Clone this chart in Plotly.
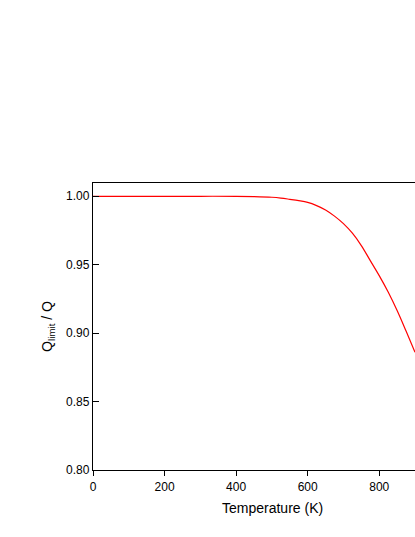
import plotly.graph_objects as go

# values
temperature = [0, 100, 200, 300, 400, 450, 500, 525, 550, 575, 600, 625, 650, 675,
               700, 725, 750, 775, 800, 825, 850, 875, 900]
q_ratio = [1.0, 1.0, 1.0, 1.0, 1.0, 0.9998, 0.9993, 0.9987, 0.9978, 0.9968, 0.9955,
           0.9932, 0.9900, 0.9855, 0.9800, 0.9730, 0.9640, 0.9530, 0.9420, 0.9300,
           0.9165, 0.9015, 0.8860]

x_ticks = [0, 200, 400, 600, 800]
y_ticks = [0.80, 0.85, 0.90, 0.95, 1.00]

fig = go.Figure()
fig.add_trace(go.Scatter(x=temperature, y=q_ratio, mode="lines",
                         line=dict(color="#ff0000", width=1.2, shape="spline"),
                         showlegend=False))

font = "Liberation Sans, Arial, sans-serif"
# the original plot is cut off at the window's right edge
fig.update_layout(width=415, height=537,
                  margin=dict(l=93, r=0, t=183, b=67),
                  paper_bgcolor="white", plot_bgcolor="white",
                  font=dict(family=font, color="black", size=12))
fig.update_xaxes(range=[0, 900], tickvals=x_ticks, ticks="outside", ticklen=5,
                 tickcolor="black", showline=True, linecolor="black", linewidth=1.3,
                 mirror=True, showgrid=False, zeroline=False)
fig.update_yaxes(range=[0.80, 1.0097], tickvals=y_ticks, tickformat=".2f",
                 ticks="inside", ticklen=6, tickcolor="black",
                 showline=True, linecolor="black", linewidth=1.3,
                 showgrid=False, zeroline=False,
                 title=dict(text="Q<sub>limit</sub> / Q", font=dict(size=14), standoff=10))
# x title centred on the full (uncropped) plot width
fig.add_annotation(text="Temperature (K)", xref="paper", yref="paper",
                   x=0.559, y=-0.132, xanchor="center", yanchor="middle",
                   showarrow=False, font=dict(size=14))

# drop the default page margin so the figure sits at the window's corner
fig.write_html("out.html", config={"displayModeBar": False},
               post_script="document.body.style.margin='0';document.body.style.overflow='hidden';")
